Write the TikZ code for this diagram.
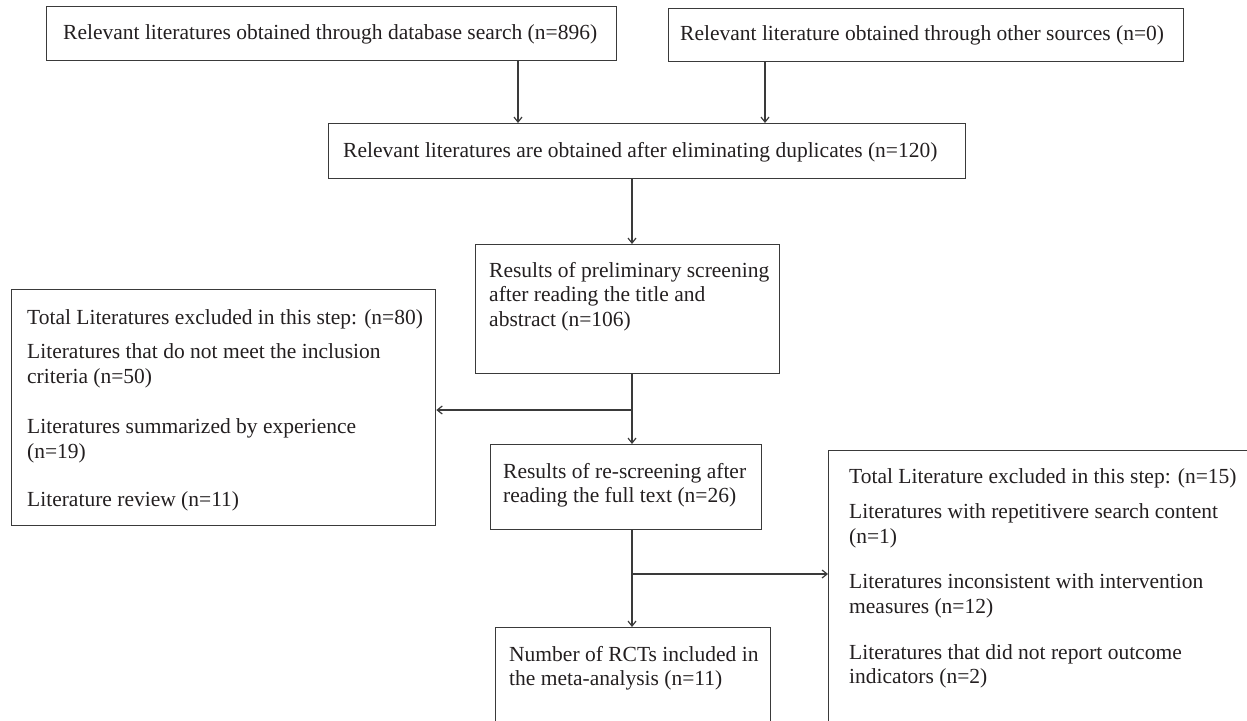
\documentclass[tikz,border=0pt]{standalone}
\usepackage{fontspec}
\setmainfont{Liberation Serif}
\usetikzlibrary{arrows.meta}
\definecolor{linec}{HTML}{3A3A3A}
\definecolor{textc}{HTML}{231F20}
\newcommand{\boxlines}[1]{\begin{tabular}[t]{@{}l@{}}#1\end{tabular}}
\begin{document}
\begin{tikzpicture}[x=1pt,y=-1pt,
  box/.style={draw=linec, line width=1.3pt, inner sep=0pt, anchor=north west},
  txt/.style={inner sep=0pt, anchor=base west, font=\fontsize{21.5}{24.8}\selectfont, text=textc},
  arr/.style={draw=linec, line width=1.2pt, -{Straight Barb[length=5pt,width=8pt]}}]
\useasboundingbox (0,0) rectangle (1247,720);
% boxes
\node[box, minimum width=570pt, minimum height=54pt] (b1) at (46,6) {};
\node[box, minimum width=515pt, minimum height=53pt] (b2) at (668,8) {};
\node[box, minimum width=637pt, minimum height=55pt] (b3) at (328,123) {};
\node[box, minimum width=304pt, minimum height=129pt] (b4) at (475,244) {};
\node[box, minimum width=424pt, minimum height=236pt] (b5) at (11,289) {};
\node[box, minimum width=271pt, minimum height=85pt] (b6) at (490,444) {};
\node[box, minimum width=430pt, minimum height=300pt] (b7) at (828,450) {};
\node[box, minimum width=275pt, minimum height=120pt] (b8) at (495,627) {};
% texts
\node[txt] (t1) at (63,39) {Relevant literatures obtained through database search (n=896)};
\node[txt] (t2) at (680,40) {Relevant literature obtained through other sources (n=0)};
\node[txt] (t3) at (343,157) {Relevant literatures are obtained after eliminating duplicates (n=120)};
\node[txt] (t4) at (489,277) {\boxlines{Results of preliminary screening\\after reading the title and\\abstract (n=106)}};
\node[txt] (t5) at (27,324) {\boxlines{Total Literatures excluded in this step: (n=80)\\[9.5pt]Literatures that do not meet the inclusion\\criteria (n=50)\\[26pt]Literatures summarized by experience\\(n=19)\\[23pt]Literature review (n=11)}};
\node[txt] (t6) at (503,478) {\boxlines{Results of re-screening after\\reading the full text (n=26)}};
\node[txt] (t7) at (849,483) {\boxlines{Total Literature excluded in this step: (n=15)\\[11pt]Literatures with repetitivere search content\\(n=1)\\[20pt]Literatures inconsistent with intervention\\measures (n=12)\\[21pt]Literatures that did not report outcome\\indicators (n=2)}};
\node[txt] (t8) at (509,661) {\boxlines{Number of RCTs included in\\the meta-analysis (n=11)}};
% connectors
\coordinate (c1) at (518,0);
\coordinate (c2) at (765,0);
\coordinate (c3) at (632,0);
\coordinate (j1) at (632,410);
\coordinate (j2) at (632,574);
\draw[arr] (b1.south -| c1) -- (b3.north -| c1);
\draw[arr] (b2.south -| c2) -- (b3.north -| c2);
\draw[arr] (b3.south -| c3) -- (b4.north -| c3);
\draw[arr] (b4.south -| c3) -- (b6.north -| c3);
\draw[arr] (j1) -- (b5.east |- j1);
\draw[arr] (b6.south -| c3) -- (b8.north -| c3);
\draw[arr] (j2) -- (b7.west |- j2);
\end{tikzpicture}
\end{document}
